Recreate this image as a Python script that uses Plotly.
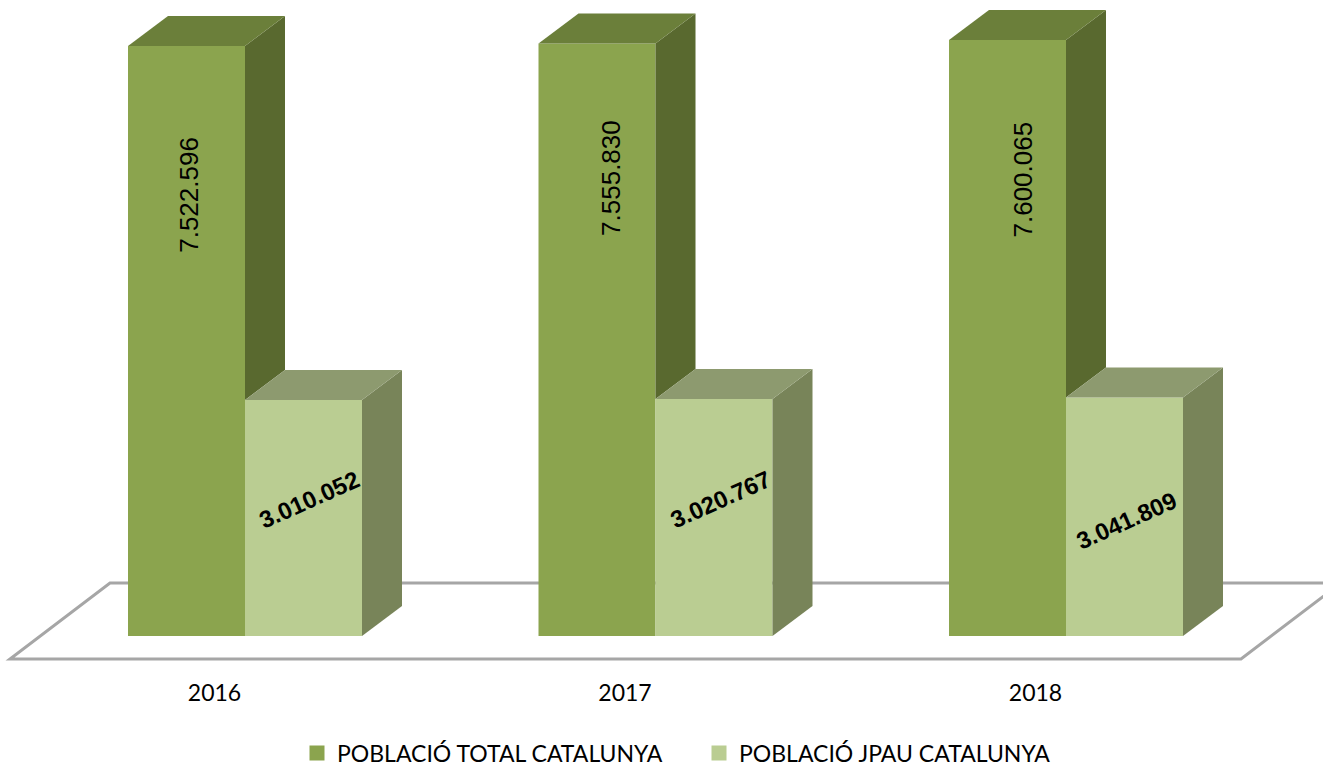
import plotly.graph_objects as go

# Dades
years = ["2016", "2017", "2018"]
total_cat = [7522596, 7555830, 7600065]
jpau_cat = [3010052, 3020767, 3041809]
total_labels = ["7.522.596", "7.555.830", "7.600.065"]
jpau_labels = ["3.010.052", "3.020.767", "3.041.809"]

name_total = "POBLACIÓ TOTAL CATALUNYA"
name_jpau = "POBLACIÓ JPAU CATALUNYA"

# Colors: frontal, superior, lateral
total_colors = ["#8ba44e", "#6b7f3a", "#59692f"]
jpau_colors = ["#bacd92", "#8d9a6f", "#788459"]

# Escala en pixels de la figura
W, H = 1323, 768
MARGIN_B = 100
PX_X = 410.5          # pixels entre grups
X0 = 245.0            # centre del primer grup
PX_Y = 590 / 7522596  # pixels per habitant
Y0 = 636.0            # base de les barres
BAR_W = 117 / PX_X
DX = 40 / PX_X        # profunditat
DY = 30 / PX_Y

x_range = [-X0 / PX_X, (W - X0) / PX_X]
y_range = [(Y0 - (H - MARGIN_B)) / PX_Y, Y0 / PX_Y]

fig = go.Figure()
positions = list(range(len(years)))

fig.add_trace(go.Bar(x=positions, y=total_cat, showlegend=False,
                     marker=dict(color=total_colors[0], line=dict(width=0))))
fig.add_trace(go.Bar(x=positions, y=jpau_cat, showlegend=False,
                     marker=dict(color=jpau_colors[0], line=dict(width=0))))

# Entrades de la llegenda, amb el quadrat una mica mes gran que el de les barres
fig.add_trace(go.Scatter(x=[None], y=[None], mode="markers", name=name_total,
                         marker=dict(symbol="square", size=15, color=total_colors[0])))
fig.add_trace(go.Scatter(x=[None], y=[None], mode="markers", name=name_jpau,
                         marker=dict(symbol="square", size=15, color=jpau_colors[0])))


def face(xs, ys, color):
    fig.add_trace(go.Scatter(x=xs, y=ys, mode="lines", fill="toself", fillcolor=color,
                             line=dict(width=0), hoverinfo="skip", showlegend=False))


# Cares laterals i superiors de cada barra
for i in positions:
    t, j = total_cat[i], jpau_cat[i]
    # la part baixa del lateral queda amagada per la barra JPAU
    face([i, i, i + DX, i + DX], [j, t, t + DY, j + DY], total_colors[2])
    face([i - BAR_W, i, i + DX, i - BAR_W + DX], [t, t, t + DY, t + DY], total_colors[1])
    right = i + BAR_W
    face([right, right, right + DX, right + DX], [0, j, j + DY, DY], jpau_colors[2])
    face([i, right, right + DX, i + DX], [j, j, j + DY, j + DY], jpau_colors[1])

# Terra del grafic
floor_xs = [(10 - X0) / PX_X, (1241 - X0) / PX_X, (1341 - X0) / PX_X, (110 - X0) / PX_X]
floor_ys = [(Y0 - 659) / PX_Y, (Y0 - 659) / PX_Y, (Y0 - 583) / PX_Y, (Y0 - 583) / PX_Y]
floor_path = "M " + " L ".join(f"{x},{y}" for x, y in zip(floor_xs, floor_ys)) + " Z"
fig.add_shape(type="path", path=floor_path, layer="below",
              line=dict(color="#a6a6a6", width=3), fillcolor="rgba(0,0,0,0)")

# Etiquetes: alcada relativa dins la barra i desplacament horitzontal
total_label_h = [0.747, 0.773, 0.765]
total_label_dx = [3, 14, 15]
jpau_label_h = [0.577, 0.578, 0.485]
jpau_label_dx = [6, 6, 2]

for i in positions:
    fig.add_annotation(x=i - BAR_W / 2 + total_label_dx[i] / PX_X, y=total_cat[i] * total_label_h[i],
                       text=total_labels[i], textangle=-90, showarrow=False,
                       font=dict(family="Liberation Sans", size=26, color="#000000"))
    fig.add_annotation(x=i + BAR_W / 2 + jpau_label_dx[i] / PX_X, y=jpau_cat[i] * jpau_label_h[i],
                       text=f"<b>{jpau_labels[i]}</b>", textangle=-24, showarrow=False,
                       font=dict(family="Liberation Sans", size=24, color="#000000"))

fig.update_layout(
    width=W,
    height=H,
    margin=dict(l=0, r=0, t=0, b=MARGIN_B),
    paper_bgcolor="white",
    plot_bgcolor="white",
    barmode="group",
    bargap=1 - 2 * BAR_W,
    bargroupgap=0,
    font=dict(family="Lato", size=23, color="#000000"),
    legend=dict(orientation="h", x=297 / W, xanchor="left",
                yref="container", y=15 / H, yanchor="middle",
                font=dict(family="Lato", size=23), entrywidth=357, entrywidthmode="pixels",
                bgcolor="rgba(0,0,0,0)"),
    xaxis=dict(range=x_range, tickmode="array",
               tickvals=[i - 30.5 / PX_X for i in positions], ticktext=years,
               showgrid=False, zeroline=False, showline=False, ticks="", ticklabelstandoff=9),
    yaxis=dict(range=y_range, visible=False, showgrid=False, zeroline=False),
)

fig.write_html("out.html", config=dict(displayModeBar=False),
               post_script="document.body.style.margin='0';")
